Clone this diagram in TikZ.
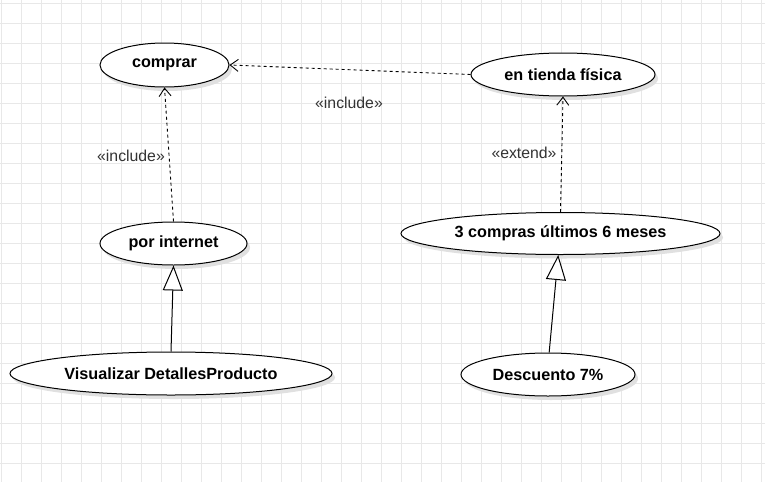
\documentclass[tikz,border=0pt]{standalone}
\usepackage{fontspec}
\setmainfont{Liberation Sans}
\usetikzlibrary{shapes.geometric,arrows.meta,shadows}
\definecolor{gridc}{HTML}{E8E8E8}
\definecolor{lblc}{HTML}{333333}
\tikzset{
  uc/.style={ellipse, draw=black, line width=1pt, fill=white, inner sep=0pt,
    font=\fontsize{16.2}{18}\selectfont\bfseries,
    drop shadow={shadow xshift=3pt, shadow yshift=-4pt, fill=black!12, opacity=1}},
  dep/.style={draw=black, line width=0.9pt, dash pattern=on 3pt off 3pt,
    -{Straight Barb[length=8pt,width=12pt,line width=0.9pt]}},
  gen/.style={draw=black, line width=1pt,
    -{Triangle[open,length=25pt,width=20pt,line width=1pt,fill=white]}},
  lbl/.style={font=\fontsize{15.8}{17}\selectfont, text=lblc, inner sep=1pt}
}
\begin{document}
\begin{tikzpicture}[x=1pt,y=-1pt]
\useasboundingbox (0,0) rectangle (765,482);
\fill[white] (0,0) rectangle (765,482);
\begin{scope}
\clip (0,0) rectangle (765,482);
\foreach \i in {0,...,38} \draw[gridc, line width=1pt] (1+20*\i,0) -- (1+20*\i,482);
\foreach \j in {0,...,24} \draw[gridc, line width=1pt] (0,3+20*\j) -- (765,3+20*\j);
\end{scope}

\node[uc, minimum width=129pt, minimum height=44pt] (comprar) at (164.5,65) {comprar};
\node[uc, minimum width=184pt, minimum height=43pt] (tienda) at (563,74.5) {en tienda física};
\node[uc, minimum width=147pt, minimum height=43pt] (internet) at (173.5,243.5) {por internet};
\node[uc, minimum width=319pt, minimum height=42pt] (compras) at (560.5,233.5) {3 compras últimos 6 meses};
\node[uc, minimum width=322pt, minimum height=43pt] (visual) at (171,373.5) {Visualizar DetallesProducto};
\node[uc, minimum width=174pt, minimum height=43pt] (desc) at (548,374.5) {Descuento 7\%};

\draw[dep] (internet.north) -- (comprar.south);
\draw[dep] (tienda.west) -- (comprar.east);
\draw[dep] (compras.north) -- (tienda.south);
\draw[gen] (visual.north) -- (internet.south);
\draw[gen] (desc.87) -- (compras.264);

\node[lbl] (l1) at (131,156) {«include»};
\node[lbl] (l2) at (349,103) {«include»};
\node[lbl] (l3) at (524,153) {«extend»};
\end{tikzpicture}
\end{document}
